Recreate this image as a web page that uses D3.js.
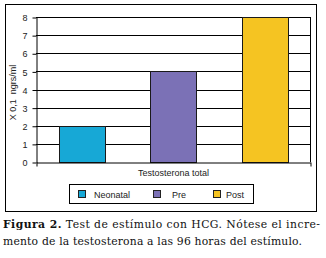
<!DOCTYPE html>
<html>
<head>
<meta charset="utf-8">
<script src="https://cdn.jsdelivr.net/npm/d3@7"></script>
<style>
  html, body { margin: 0; padding: 0; background: #fff; }
  svg { display: block; }
  .axis text { font-family: "Liberation Sans", Arial, sans-serif; font-size: 9px; fill: #222; }
  .axis path, .axis line { stroke: #000; }
</style>
</head>
<body>
<div id="chart"></div>
<script>
// data
const series = ['Neonatal', 'Pre', 'Post'];
const values = [2, 5, 8];
const colors = ['#17a8d6', '#7b71b6', '#f5c422'];
const yTicks = [0, 1, 2, 3, 4, 5, 6, 7, 8];
const category = 'Testosterona total';
const yLabel = 'X 0,1  ngrs/ml';
const captionBold = 'Figura 2.';
const captionLines = [
  ' Test de estímulo con HCG. Nótese el incre-',
  'mento de la testosterona a las 96 horas del estímulo.'
];

const W = 326, H = 258;
const plot = { left: 36, right: 310, top: 17, bottom: 162 };

const svg = d3.select('#chart').append('svg')
  .attr('width', W).attr('height', H)
  .attr('viewBox', `0 0 ${W} ${H}`);

// outer frame
svg.append('rect')
  .attr('x', 5.5).attr('y', 4.5)
  .attr('width', 311).attr('height', 207)
  .attr('fill', 'none').attr('stroke', '#000').attr('stroke-width', 1);

const x = d3.scaleBand().domain(series)
  .range([plot.left, plot.right])
  .paddingInner(0.5).paddingOuter(0.25);
const y = d3.scaleLinear().domain([0, 8]).range([plot.bottom, plot.top]);

// gridlines
svg.append('g').selectAll('line').data(yTicks.slice(1)).join('line')
  .attr('x1', plot.left).attr('x2', plot.right)
  .attr('y1', d => Math.round(y(d)) + 0.5).attr('y2', d => Math.round(y(d)) + 0.5)
  .attr('stroke', '#000').attr('stroke-width', 1);

// right border of plot area
svg.append('line')
  .attr('x1', plot.right + 0.5).attr('x2', plot.right + 0.5)
  .attr('y1', y(8)).attr('y2', y(0))
  .attr('stroke', '#000');

// bars
svg.append('g').selectAll('rect').data(series).join('rect')
  .attr('x', d => Math.round(x(d)) + 0.5)
  .attr('y', (d, i) => Math.round(y(values[i])) + 0.5)
  .attr('width', Math.round(x.bandwidth()))
  .attr('height', (d, i) => Math.round(y(0)) - Math.round(y(values[i])))
  .attr('fill', (d, i) => colors[i])
  .attr('stroke', '#1a1a1a').attr('stroke-width', 1);

// y axis
svg.append('g').attr('class', 'axis')
  .attr('transform', `translate(${plot.left + 0.5},0.5)`)
  .call(d3.axisLeft(y).tickValues(yTicks).tickSize(4).tickPadding(5).tickSizeOuter(0))
  .call(g => g.selectAll('text').attr('dy', '0.35em'));

// x axis: one category spanning the whole plot, ticks at both ends
const xc = d3.scalePoint().domain(['a', 'b']).range([plot.left, plot.right]);
svg.append('g').attr('class', 'axis')
  .attr('transform', `translate(0.5,${Math.round(plot.bottom) + 0.5})`)
  .call(d3.axisBottom(xc).tickSize(4).tickSizeOuter(0).tickFormat(''))
  .call(g => g.append('text')
    .attr('x', (plot.left + plot.right) / 2)
    .attr('y', 13)
    .attr('text-anchor', 'middle')
    .text(category));

// y label
svg.append('text')
  .attr('transform', `translate(16,${(plot.top + plot.bottom) / 2 + 3}) rotate(-90)`)
  .attr('text-anchor', 'middle')
  .style('font-family', '"Liberation Sans", Arial, sans-serif')
  .style('font-size', '9px')
  .attr('fill', '#222')
  .attr('xml:space', 'preserve')
  .text(yLabel);

// legend
const legend = svg.append('g');
legend.append('rect')
  .attr('x', 69.5).attr('y', 184.5).attr('width', 184).attr('height', 19)
  .attr('fill', 'none').attr('stroke', '#000');
const swatchX = [78, 153, 213];
const labelX = [94, 172, 226];
legend.selectAll('rect.sw').data(series).join('rect')
  .attr('class', 'sw')
  .attr('x', (d, i) => swatchX[i] + 0.5).attr('y', 190.5)
  .attr('width', 7).attr('height', 7)
  .attr('fill', (d, i) => colors[i]).attr('stroke', '#222');
legend.selectAll('text').data(series).join('text')
  .attr('x', (d, i) => labelX[i]).attr('y', 197.5)
  .style('font-family', '"Liberation Sans", Arial, sans-serif')
  .style('font-size', '9px')
  .attr('fill', '#222')
  .text(d => d);

// caption
const cap = svg.append('g')
  .style('font-family', '"DejaVu Serif", serif')
  .style('font-size', '10.8px')
  .attr('fill', '#111');
const l1 = cap.append('text').attr('x', 3).attr('y', 228)
  .attr('textLength', 317).attr('lengthAdjust', 'spacing');
l1.append('tspan').style('font-weight', 'bold').text(captionBold);
l1.append('tspan').attr('xml:space', 'preserve').text(captionLines[0]);
cap.append('text').attr('x', 3).attr('y', 245)
  .attr('textLength', 299).attr('lengthAdjust', 'spacing')
  .text(captionLines[1]);
</script>
</body>
</html>
